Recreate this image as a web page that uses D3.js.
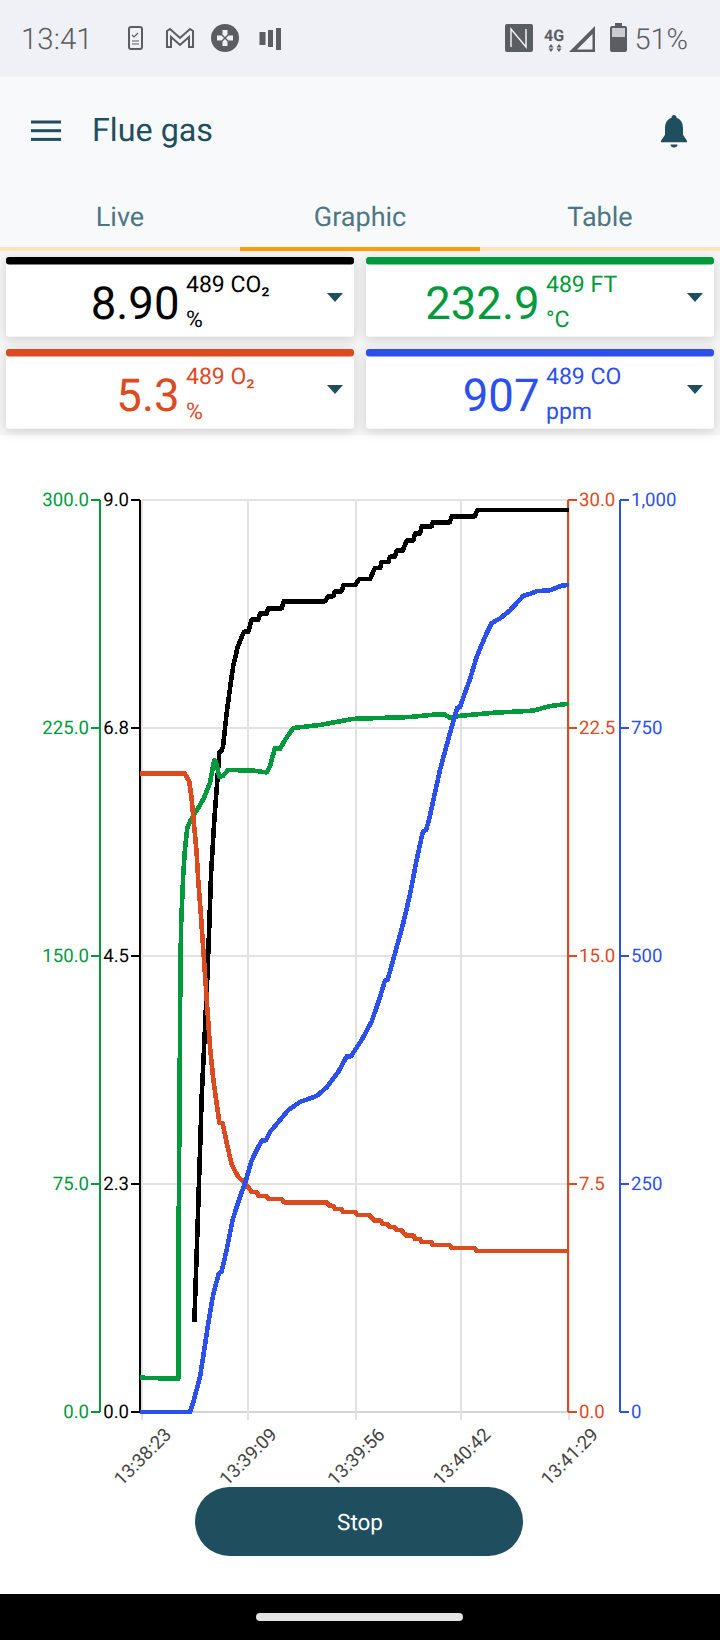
<!DOCTYPE html>
<html>
<head>
<meta charset="utf-8">
<title>Flue gas</title>
<script src="https://cdnjs.cloudflare.com/ajax/libs/d3/7.8.5/d3.min.js"></script>
<style>
  html, body { margin: 0; padding: 0; background: #fff; }
  svg { display: block; font-family: Roboto, sans-serif; text-rendering: geometricPrecision; }
  .axis text { font-family: Roboto, sans-serif; font-size: 18.600px; }
  .axis line, .axis path { stroke-width: 2px; shape-rendering: crispEdges; }
  .trace { fill: none; stroke-width: 4.600px; stroke-linejoin: round; shape-rendering: crispEdges; }
</style>
</head>
<body>
<div id="chart"></div>
<script>
'use strict';

// seconds since start, then value
var co2Points = [[22.8,0.89],[24.3,1.89],[24.8,2.26],[25.3,2.59],[26.0,3.11],[27.4,3.77],[28.4,4.26],[29.3,4.79],[30.1,5.32],[31.5,5.84],[32.5,6.14],[33.7,6.51],[34.8,6.53],[35.3,6.57],[36.9,6.90],[38.8,7.22],[39.8,7.37],[41.7,7.55],[44.4,7.70],[46.3,7.70],[47.8,7.82],[50.7,7.82],[51.4,7.88],[54.3,7.88],[55,7.93],[60.8,7.93],[61.8,8.00],[79.7,8.00],[81.1,8.05],[83.3,8.05],[84.1,8.10],[87,8.10],[87.7,8.16],[92.8,8.16],[94.6,8.22],[99.3,8.22],[101.5,8.33],[103.7,8.33],[104.4,8.39],[107.3,8.39],[108,8.44],[110.2,8.44],[110.9,8.50],[113.5,8.50],[115.3,8.60],[118.2,8.60],[118.9,8.67],[121.1,8.67],[121.8,8.74],[126.2,8.74],[126.6,8.78],[134.1,8.78],[134.9,8.84],[145,8.84],[146,8.90],[186,8.90]];

var ftPoints = [[-0.7,11.3],[15.8,10.9],[16.0,63.2],[16.7,142.1],[17.0,159.5],[18.0,177.3],[18.7,184.9],[19.7,192.1],[21.2,194.7],[24.5,198.7],[27.0,202],[29.6,206.9],[30.4,210.2],[31.5,214.5],[32.2,213.8],[33.7,209],[35.2,209.2],[37.5,211.2],[48.3,211],[54.3,210.4],[55.7,212.3],[57.9,218.4],[60.1,218.1],[62.3,221.1],[65.9,225],[77.5,226],[91.9,228],[103.7,228.3],[116.7,228.6],[128.5,229.5],[132,229.4],[134.1,228.3],[138.5,229],[152.9,230],[170.3,230.7],[177.7,232.2],[186,233]];

var o2Points = [[-0.7,21.0],[18.7,21.0],[20.6,20.73],[21.6,20.2],[22.6,19.37],[23.8,18.39],[24.5,17.5],[25.6,16.41],[26.4,15.53],[27.4,14.44],[28.6,13.13],[29.6,12.02],[31.1,10.92],[32.5,10.16],[33.7,9.51],[35.1,9.51],[36.9,8.85],[39.1,8.13],[41.9,7.74],[44.9,7.53],[47.8,7.24],[50,7.24],[50.7,7.11],[54.3,7.11],[55,7.01],[60.8,7.01],[61.8,6.90],[80.4,6.90],[81.6,6.79],[83.3,6.78],[84.1,6.68],[87,6.67],[87.5,6.58],[92.8,6.58],[93.8,6.48],[99,6.48],[100,6.39],[101.5,6.29],[104,6.29],[104.8,6.18],[107,6.18],[107.7,6.09],[109.9,6.09],[110.9,5.99],[113.1,5.99],[113.8,5.90],[115.3,5.80],[118.5,5.80],[118.9,5.69],[121.1,5.69],[121.8,5.59],[126.2,5.59],[126.6,5.49],[134.1,5.49],[134.9,5.39],[145,5.39],[145.8,5.30],[186,5.30]];

var coPoints = [[-0.7,0],[20.9,0],[22.6,13],[25.3,39],[27.1,68],[28.9,98],[31.1,130],[33.5,152],[34.7,154],[36.9,178],[39.5,211],[42.7,236],[44.9,251],[47.8,276],[50.7,291],[52.4,298],[54,298],[55.7,307],[59.4,318],[63.7,331],[68.8,340],[76.1,346.5],[80.4,356],[85.5,373],[89.2,390],[91,390],[95.7,408],[100,428],[103.7,455],[105.8,473],[107,474],[110.2,503],[113.8,536],[116.7,567],[119.6,605],[122.3,636],[123.7,638],[125,649],[129.8,704],[134.1,744],[137.3,772],[138.5,773],[142.9,804],[145.8,828],[149.4,850],[152.3,865],[155.9,870],[160.3,879],[166.1,895],[169,897],[171.9,900],[177.7,901],[182.8,906],[186,907]];

var timeTicks = [0, 46, 93, 139, 186];
var timeLabels = ['13:38:23', '13:39:09', '13:39:56', '13:40:42', '13:41:29'];

var ftTicks = [0, 75, 150, 225, 300];
var co2Ticks = [0, 2.25, 4.5, 6.75, 9];
var o2Ticks = [0, 7.5, 15, 22.5, 30];
var coTicks = [0, 250, 500, 750, 1000];

var cardValues = ['8.90', '232.9', '5.3', '907'];
var cardNames = ['489 CO\u2082', '489 FT', '489 O\u2082', '489 CO'];
var cardUnits = ['%', '\u00b0C', '%', 'ppm'];

var black = '#000000', green = '#009a3d', red = '#dc4a1f', blue = '#2b50ee', teal = '#1f4f5f';
var cardColors = [black, green, red, blue];

var svg = d3.select('#chart').append('svg').attr('width', 720).attr('height', 1640);

// ---- app chrome ----
svg.append('rect').attr('width', 720).attr('height', 77).attr('fill', '#eff1f6');
svg.append('rect').attr('y', 77).attr('width', 720).attr('height', 170).attr('fill', '#f7f9fb');
svg.append('rect').attr('y', 247).attr('width', 720).attr('height', 4).attr('fill', '#fde4bf');
svg.append('rect').attr('x', 240).attr('y', 247).attr('width', 240).attr('height', 4).attr('fill', '#ff9e03');
svg.append('rect').attr('y', 251).attr('width', 720).attr('height', 184).attr('fill', '#f6f6f6');

var statusGrey = '#5a5d61';
svg.append('text').attr('x', 21).attr('y', 48.500).attr('font-size', 29.500).attr('font-weight', 300)
  .attr('fill', statusGrey).text('13:41');
svg.append('text').attr('x', 688).attr('y', 48.500).attr('font-size', 29).attr('font-weight', 300)
  .attr('text-anchor', 'end').attr('fill', statusGrey).text('51%');

var icons = svg.append('g');
// phone with check
icons.append('rect').attr('x', 129).attr('y', 27).attr('width', 13).attr('height', 22).attr('rx', 2)
  .attr('fill', 'none').attr('stroke', statusGrey).attr('stroke-width', 2);
icons.append('path').attr('d', 'M132 35l2 2 4-4M132 41h7M132 44h7').attr('fill', 'none')
  .attr('stroke', statusGrey).attr('stroke-width', 1.200);
// gmail M
icons.append('path').attr('d', 'M167 47V31l3-2 10 9 10-9 3 2v16h-4V37l-9 8-9-8v10z').attr('fill', 'none')
  .attr('stroke', statusGrey).attr('stroke-width', 2);
// game circle
icons.append('circle').attr('cx', 225).attr('cy', 38).attr('r', 14).attr('fill', statusGrey);
icons.append('path').attr('d', 'M222.500 30h5v4.500l-2.500 2.500-2.500-2.500zM222.500 46h5v-4.500l-2.500-2.500-2.500 2.500zM217 35.500h4.500l2.500 2.500-2.500 2.500H217zM233 35.500h-4.500l-2.500 2.500 2.500 2.500H233z')
  .attr('fill', '#eff1f6');
// bars
icons.append('rect').attr('x', 259.500).attr('y', 32).attr('width', 6).attr('height', 13).attr('fill', statusGrey);
icons.append('rect').attr('x', 268).attr('y', 30).attr('width', 5).attr('height', 17).attr('fill', statusGrey);
icons.append('rect').attr('x', 276).attr('y', 28).attr('width', 5).attr('height', 22).attr('fill', statusGrey);
// nfc
icons.append('rect').attr('x', 505).attr('y', 24).attr('width', 28).attr('height', 28).attr('rx', 2).attr('fill', statusGrey);
icons.append('path').attr('d', 'M511 47V29l15 18V29').attr('fill', 'none').attr('stroke', '#eff1f6').attr('stroke-width', 1.500);
// 4g
icons.append('text').attr('x', 554).attr('y', 41).attr('font-size', 16).attr('font-weight', 700)
  .attr('text-anchor', 'middle').attr('fill', statusGrey).text('4G');
icons.append('path').attr('d', 'M551 44l-2.500 3.500h5zM551 52l-2.500-3.500h5zM559 44l-2.500 3.500h5zM559 52l-2.500-3.500h5z').attr('fill', statusGrey);
// signal
icons.append('path').attr('d', 'M569 52L595 26V52zM577 49.500h15.500V34z').attr('fill', statusGrey).attr('fill-rule', 'evenodd');
// battery
icons.append('path').attr('d', 'M615 26v-3h7v3h3q2 0 2 2v22q0 2-2 2h-13q-2 0-2-2V28q0-2 2-2z').attr('fill', statusGrey);
icons.append('rect').attr('x', 612).attr('y', 28).attr('width', 13).attr('height', 9).attr('fill', '#c9cbce');

// header row
d3.range(3).forEach(function(i) {
  svg.append('rect').attr('x', 31).attr('y', 120.500 + i * 8.700).attr('width', 30).attr('height', 3).attr('fill', teal);
});
svg.append('text').attr('x', 92).attr('y', 141).attr('font-size', 32.300).attr('fill', teal).text('Flue gas');
svg.append('path')
  .attr('d', 'M674 115c1.500 0 2.500 1 2.500 2.800c5 1.700 6.500 6 6.500 11v6l4 6v1.500h-26v-1.500l4-6v-6c0-5 1.500-9.300 6.500-11c0-1.800 1-2.800 2.500-2.800zM670.500 144.500h7c0 1.800-1.500 3-3.500 3s-3.500-1.200-3.500-3z')
  .attr('fill', teal);

var tabNames = ['Live', 'Graphic', 'Table'];
svg.selectAll('.tab').data(tabNames).enter().append('text')
  .attr('class', 'tab')
  .attr('x', function(d, i) { return 120 + i * 240; })
  .attr('y', 225.800)
  .attr('text-anchor', 'middle')
  .attr('font-size', 27)
  .attr('fill', '#4d7685')
  .text(function(d) { return d; });

// ---- value cards ----
var defs = svg.append('defs');
var shadow = defs.append('filter').attr('id', 'cardShadow')
  .attr('x', '-10%').attr('y', '-15%').attr('width', '120%').attr('height', '145%');
shadow.append('feDropShadow').attr('dx', 0).attr('dy', 3).attr('stdDeviation', 6)
  .attr('flood-color', '#000').attr('flood-opacity', 0.16);

var cards = svg.selectAll('.card').data(cardValues).enter().append('g')
  .attr('class', 'card')
  .attr('transform', function(d, i) {
    return 'translate(' + (i % 2 ? 366 : 6) + ',' + (i < 2 ? 257 : 349) + ')';
  });

cards.append('rect').attr('width', 348).attr('height', 79.500).attr('rx', 3)
  .attr('fill', '#fff').attr('filter', 'url(#cardShadow)');
cards.append('rect').attr('width', 348).attr('height', 7.500).attr('rx', 3)
  .attr('fill', function(d, i) { return cardColors[i]; });
cards.append('text').attr('x', 173.500).attr('y', 61.500)
  .attr('text-anchor', 'end').attr('font-size', 45.500)
  .attr('fill', function(d, i) { return cardColors[i]; })
  .text(function(d) { return d; });
cards.append('text').attr('x', 180).attr('y', 34.500).attr('font-size', 23)
  .attr('fill', function(d, i) { return cardColors[i]; })
  .text(function(d, i) { return cardNames[i]; });
cards.append('text').attr('x', 180).attr('y', 69.500).attr('font-size', 23)
  .attr('fill', function(d, i) { return cardColors[i]; })
  .text(function(d, i) { return cardUnits[i]; });
cards.append('path').attr('d', 'M321 36h16l-8 9z').attr('fill', teal);

// ---- chart ----
var top_ = 500, bottom = 1412;
var x = d3.scaleLinear().domain([0, 186]).range([142, 569]);
var yFt = d3.scaleLinear().domain([0, 300]).range([bottom, top_]);
var yCo2 = d3.scaleLinear().domain([0, 9]).range([bottom, top_]);
var yO2 = d3.scaleLinear().domain([0, 30]).range([bottom, top_]);
var yCo = d3.scaleLinear().domain([0, 1000]).range([bottom, top_]);

var grid = svg.append('g').attr('fill', 'none').attr('stroke-width', 2).style('shape-rendering', 'crispEdges');
grid.selectAll('.h').data(ftTicks).enter().append('line')
  .attr('x1', x(0)).attr('x2', x(186))
  .attr('y1', function(d) { return yFt(d); })
  .attr('y2', function(d) { return yFt(d); })
  .attr('stroke', function(d) { return d === 0 ? '#d4d4d4' : '#e2e2e2'; });
grid.selectAll('.v').data(timeTicks).enter().append('line')
  .attr('x1', function(d) { return x(d); })
  .attr('x2', function(d) { return x(d); })
  .attr('y1', top_).attr('y2', bottom + 8)
  .attr('stroke', '#e2e2e2');

var xAxis = d3.axisBottom(x).tickValues(timeTicks).tickSize(0)
  .tickFormat(function(d, i) { return timeLabels[i]; });
var xg = svg.append('g').attr('class', 'axis').attr('transform', 'translate(0,' + bottom + ')').call(xAxis);
xg.select('.domain').remove();
xg.selectAll('text')
  .attr('fill', '#444')
  .attr('text-anchor', 'middle')
  .attr('y', 0).attr('dy', '0.35em')
  .attr('transform', 'translate(0,44.500) rotate(-45)');

function drawAxis(gen, xPos, color) {
  var g = svg.append('g').attr('class', 'axis')
    .attr('transform', 'translate(' + xPos + ',0)')
    .call(gen.offset(0).tickSize(9).tickSizeOuter(0).tickPadding(2));
  g.selectAll('line').attr('stroke', color);
  g.select('.domain').attr('stroke', color);
  g.selectAll('text').attr('fill', color);
}

drawAxis(d3.axisLeft(yFt).tickValues(ftTicks).tickFormat(d3.format('.1f')), 100, green);
drawAxis(d3.axisLeft(yCo2).tickValues(co2Ticks).tickFormat(d3.format('.1f')), 140, black);
drawAxis(d3.axisRight(yO2).tickValues(o2Ticks).tickFormat(d3.format('.1f')), 568, red);
drawAxis(d3.axisRight(yCo).tickValues(coTicks).tickFormat(d3.format(',')), 620, blue);

function drawTrace(points, y, color) {
  var line = d3.line()
    .x(function(d) { return x(d[0]); })
    .y(function(d) { return y(d[1]); });
  svg.append('path').attr('class', 'trace').attr('stroke', color).attr('d', line(points));
}

drawTrace(co2Points, yCo2, black);
drawTrace(ftPoints, yFt, green);
drawTrace(o2Points, yO2, red);
drawTrace(coPoints, yCo, blue);

// ---- stop button and nav bar ----
svg.append('rect').attr('x', 195).attr('y', 1487).attr('width', 328).attr('height', 69).attr('rx', 34.500).attr('fill', teal);
svg.append('text').attr('x', 360).attr('y', 1530).attr('text-anchor', 'middle').attr('font-size', 22.500)
  .attr('fill', '#fff').text('Stop');
svg.append('rect').attr('y', 1594).attr('width', 720).attr('height', 46).attr('fill', '#000');
svg.append('rect').attr('x', 256).attr('y', 1613).attr('width', 207).attr('height', 8).attr('rx', 4).attr('fill', '#e3e3e3');
</script>
</body>
</html>
